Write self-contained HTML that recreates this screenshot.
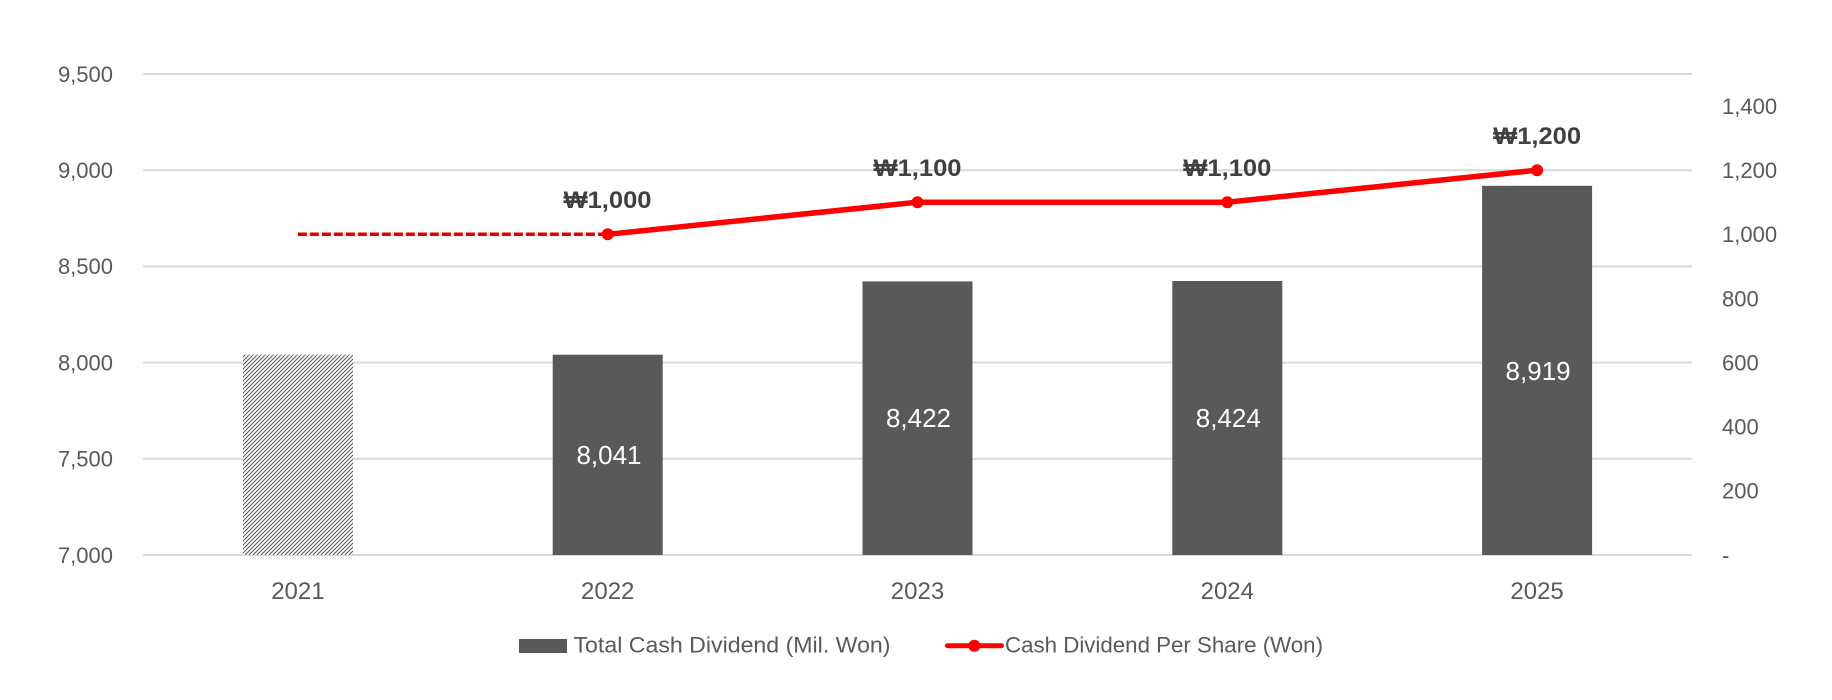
<!DOCTYPE html>
<html>
<head>
<meta charset="utf-8">
<style>
  html,body{margin:0;padding:0;background:#fff;}
  svg{display:block;}
  text{font-family:"Liberation Sans","DejaVu Sans",sans-serif;}
</style>
</head>
<body>
<svg width="1832" height="700" viewBox="0 0 1832 700" xmlns="http://www.w3.org/2000/svg">
  <defs>
    <pattern id="hatch" patternUnits="userSpaceOnUse" width="4" height="4">
      <rect width="4" height="4" fill="#ffffff"/>
      <path d="M-1,1 l2,-2 M0,4 l4,-4 M3,5 l2,-2" stroke="#555555" stroke-width="1"/>
    </pattern>
  </defs>
  <rect width="1832" height="700" fill="#ffffff"/>

  <!-- gridlines -->
  <g stroke="#d9d9d9" stroke-width="2">
    <line x1="143" y1="74" x2="1692" y2="74"/>
    <line x1="143" y1="170.2" x2="1692" y2="170.2"/>
    <line x1="143" y1="266.4" x2="1692" y2="266.4"/>
    <line x1="143" y1="362.6" x2="1692" y2="362.6"/>
    <line x1="143" y1="458.8" x2="1692" y2="458.8"/>
    <line x1="143" y1="555" x2="1692" y2="555"/>
  </g>

  <!-- left axis labels -->
  <g font-size="22" fill="#595959" text-anchor="end">
    <text x="113" y="82">9,500</text>
    <text x="113" y="178">9,000</text>
    <text x="113" y="274">8,500</text>
    <text x="113" y="370.5">8,000</text>
    <text x="113" y="466.5">7,500</text>
    <text x="113" y="563">7,000</text>
  </g>

  <!-- right axis labels -->
  <g font-size="22" fill="#595959" text-anchor="start">
    <text x="1722" y="114">1,400</text>
    <text x="1722" y="178">1,200</text>
    <text x="1722" y="242">1,000</text>
    <text x="1722" y="306.5">800</text>
    <text x="1722" y="370.5">600</text>
    <text x="1722" y="434.5">400</text>
    <text x="1722" y="498.5">200</text>
    <text x="1722" y="563">-</text>
  </g>

  <!-- bars -->
  <rect x="243" y="354.7" width="110" height="200.3" fill="url(#hatch)"/>
  <rect x="552.7" y="354.7" width="110" height="200.3" fill="#595959"/>
  <rect x="862.5" y="281.4" width="110" height="273.6" fill="#595959"/>
  <rect x="1172.3" y="281" width="110" height="274" fill="#595959"/>
  <rect x="1482.1" y="185.8" width="110" height="369.2" fill="#595959"/>

  <!-- bar labels -->
  <g font-size="26" fill="#ffffff" text-anchor="middle">
    <text x="609" y="464">8,041</text>
    <text x="918.5" y="427">8,422</text>
    <text x="1228.3" y="427">8,424</text>
    <text x="1538.1" y="380">8,919</text>
  </g>

  <!-- line series -->
  <line x1="297.9" y1="234.3" x2="607.7" y2="234.3" stroke="#e60000" stroke-width="3.5" stroke-dasharray="9 3"/>
  <polyline points="607.7,234.3 917.5,202.2 1227.3,202.2 1537.1,170.2" fill="none" stroke="#ff0000" stroke-width="5.5" stroke-linejoin="round"/>
  <g fill="#ff0000">
    <circle cx="607.7" cy="234.3" r="6"/>
    <circle cx="917.5" cy="202.2" r="6"/>
    <circle cx="1227.3" cy="202.2" r="6"/>
    <circle cx="1537.1" cy="170.2" r="6"/>
  </g>

  <!-- line labels -->
  <g font-size="24" font-weight="bold" fill="#404040" text-anchor="middle">
    <text x="607.5" y="208" textLength="88" lengthAdjust="spacingAndGlyphs">₩1,000</text>
    <text x="917.5" y="176" textLength="88" lengthAdjust="spacingAndGlyphs">₩1,100</text>
    <text x="1227.3" y="176" textLength="88" lengthAdjust="spacingAndGlyphs">₩1,100</text>
    <text x="1537.1" y="144" textLength="88" lengthAdjust="spacingAndGlyphs">₩1,200</text>
  </g>

  <!-- category labels -->
  <g font-size="24" fill="#595959" text-anchor="middle">
    <text x="297.9" y="599">2021</text>
    <text x="607.7" y="599">2022</text>
    <text x="917.5" y="599">2023</text>
    <text x="1227.3" y="599">2024</text>
    <text x="1537.1" y="599">2025</text>
  </g>

  <!-- legend -->
  <rect x="519" y="639" width="48" height="14" fill="#595959"/>
  <text x="573.5" y="652.3" font-size="22" fill="#595959" textLength="317" lengthAdjust="spacingAndGlyphs">Total Cash Dividend (Mil. Won)</text>
  <line x1="947.5" y1="645.7" x2="1001.5" y2="645.7" stroke="#ff0000" stroke-width="5" stroke-linecap="round"/>
  <circle cx="974.3" cy="645.7" r="6" fill="#ff0000"/>
  <text x="1005" y="652.3" font-size="22" fill="#595959" textLength="318" lengthAdjust="spacingAndGlyphs">Cash Dividend Per Share (Won)</text>
</svg>
</body>
</html>
